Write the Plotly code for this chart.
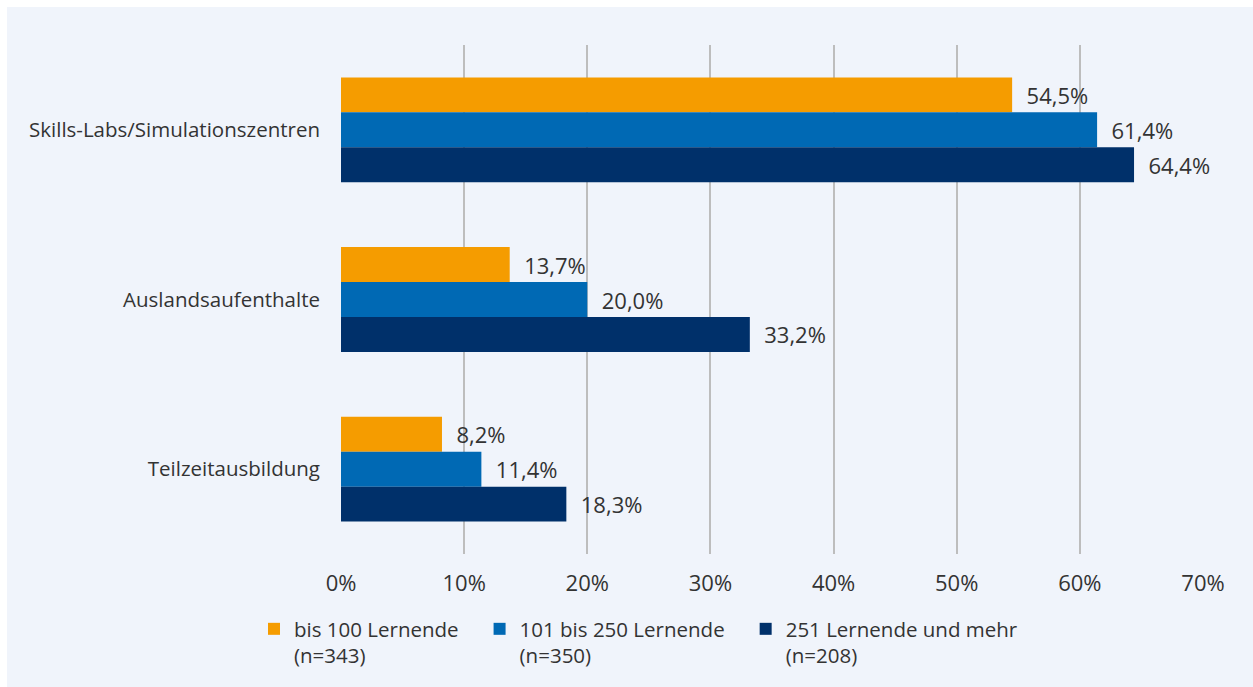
import plotly.graph_objects as go

categories = ["Skills-Labs/Simulationszentren", "Auslandsaufenthalte", "Teilzeitausbildung"]
series_names = ["bis 100 Lernende<br>(n=343)", "101 bis 250 Lernende<br>(n=350)", "251 Lernende und mehr<br>(n=208)"]
vals_small = [54.5, 13.7, 8.2]
vals_mid = [61.4, 20.0, 11.4]
vals_large = [64.4, 33.2, 18.3]
tick_vals = [0, 10, 20, 30, 40, 50, 60, 70]
tick_text = ["0%", "10%", "20%", "30%", "40%", "50%", "60%", "70%"]

colors = ["#f59c00", "#0069b4", "#00306a"]
FONT = "Open Sans"
TXT = "#333333"
PANEL = "#f0f4fb"
W, H = 1253, 687
ML, MR, MT, MB = 341, 50, 45, 132
pw, ph = W - ML - MR, H - MT - MB

NUM_SIZE = 22
LBL_SIZE = 20.5

def fmt(v):
    return "\u00a0\u00a0" + f"{v:.1f}".replace(".", ",") + "%"

pads = ["\u00a0\u00a0\u00a0", "\u00a0\u00a0\u00a0", ""]

fig = go.Figure()
for name, vals, c, p in zip(series_names, [vals_small, vals_mid, vals_large], colors, pads):
    fig.add_trace(go.Bar(
        y=categories, x=vals, name=name.replace("<br>", p + "<br>"), orientation="h",
        marker=dict(color=c, line=dict(width=0)),
        text=[fmt(v) for v in vals], textposition="outside",
        textfont=dict(family=FONT, size=NUM_SIZE, color=TXT),
        cliponaxis=False,
    ))

def px2x(px):
    return (px - ML) / pw

def py2y(py):
    return (H - MB - py) / ph

fig.update_layout(
    width=W, height=H, autosize=False,
    margin=dict(l=ML, r=MR, t=MT, b=MB, pad=0),
    paper_bgcolor=PANEL,
    plot_bgcolor=PANEL,
    barmode="group", bargap=0.382, bargroupgap=0,
    font=dict(family=FONT, size=LBL_SIZE, color=TXT),
    xaxis=dict(range=[0, 70], tickvals=tick_vals, ticktext=tick_text,
               showgrid=True, gridcolor="#bdbdbd", gridwidth=2,
               zeroline=False, showline=False, ticks="",
               ticklabelstandoff=14,
               tickfont=dict(family=FONT, size=NUM_SIZE, color=TXT)),
    yaxis=dict(autorange="reversed", showgrid=False, zeroline=False,
               showline=False, ticks="", ticklabelstandoff=20,
               tickfont=dict(family=FONT, size=LBL_SIZE, color=TXT)),
    legend=dict(orientation="h", x=px2x(254), y=py2y(609), xanchor="left", yanchor="top",
                valign="top", traceorder="normal", itemwidth=30,
                font=dict(family=FONT, size=LBL_SIZE, color=TXT),
                bgcolor="rgba(0,0,0,0)"),
    shapes=[
        dict(type="rect", xref="paper", yref="paper",
             x0=px2x(-5), x1=px2x(W + 5), y0=py2y(7), y1=py2y(-5),
             fillcolor="white", line=dict(width=0), layer="below"),
        dict(type="rect", xref="paper", yref="paper",
             x0=px2x(-5), x1=px2x(7), y0=py2y(H + 5), y1=py2y(-5),
             fillcolor="white", line=dict(width=0), layer="below"),
    ],
)

fig.write_html("out.html", config={"displayModeBar": False},
               post_script="document.body.style.margin='0';document.body.style.overflow='hidden';")
